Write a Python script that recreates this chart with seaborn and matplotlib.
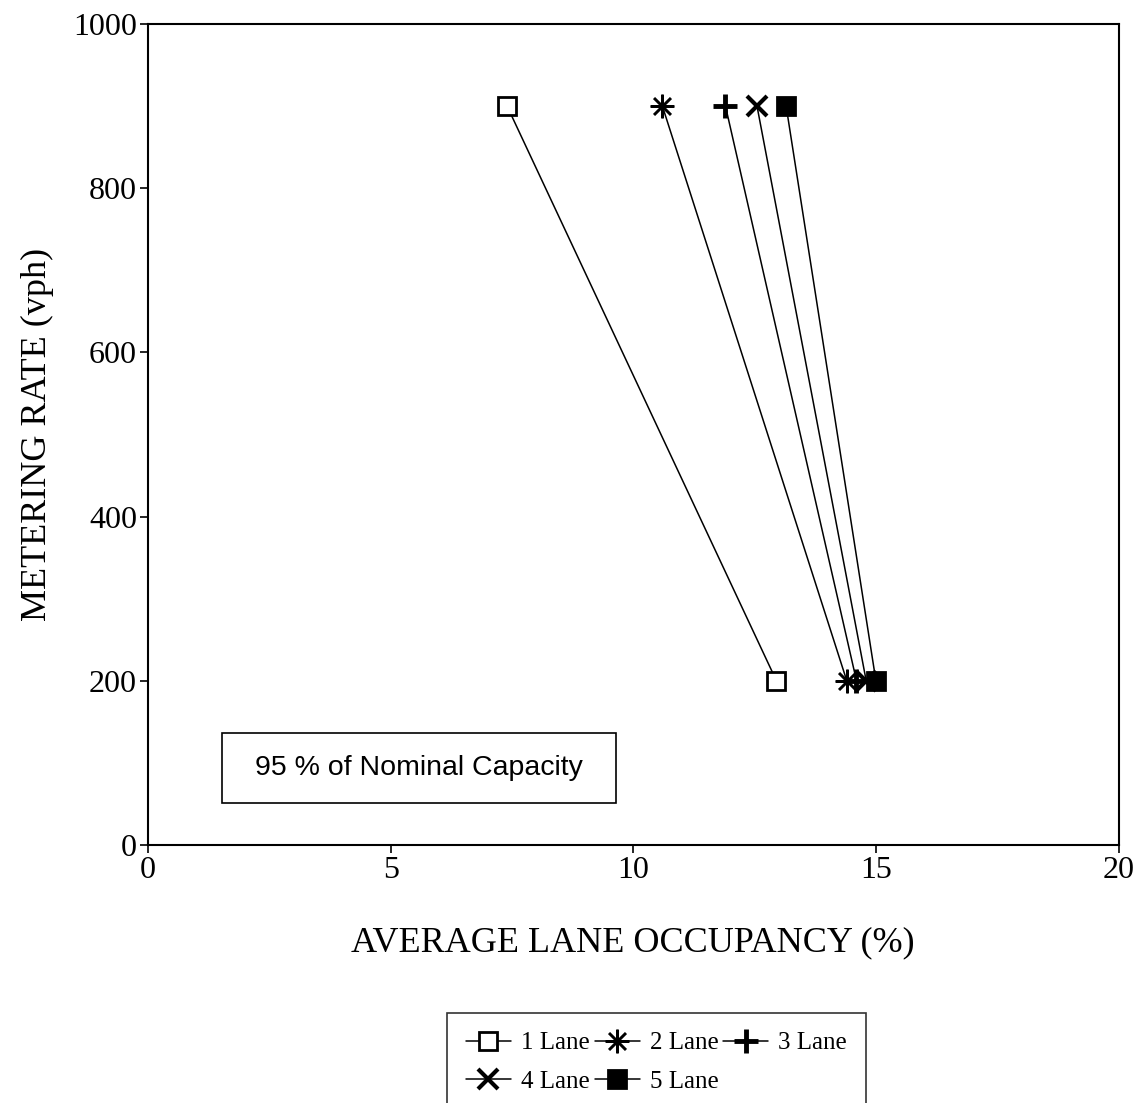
import matplotlib
matplotlib.use("Agg")
import matplotlib.pyplot as plt
from matplotlib.patches import Rectangle
import seaborn as sns
import pandas as pd

lanes = ["1 Lane", "2 Lane", "3 Lane", "4 Lane", "5 Lane"]
metering_rates = [900, 200]
occ_at_900 = [7.4, 10.6, 11.9, 12.55, 13.15]
occ_at_200 = [12.95, 14.4, 14.6, 14.8, 15.0]
x_ticks = [0, 5, 10, 15, 20]
y_ticks = [0, 200, 400, 600, 800, 1000]

rows = []
for lane, a, b in zip(lanes, occ_at_900, occ_at_200):
    rows.append({"lane": lane, "occ": a, "rate": metering_rates[0]})
    rows.append({"lane": lane, "occ": b, "rate": metering_rates[1]})
df = pd.DataFrame(rows)

sns.set_theme(style="ticks")
plt.rcParams["font.family"] = ["Liberation Serif", "DejaVu Serif"]
plt.rcParams["text.color"] = "black"
plt.rcParams["axes.labelcolor"] = "black"

fig = plt.figure(figsize=(11.43, 11.03), dpi=100)
ax = fig.add_axes([0.1295, 0.2339, 0.8491, 0.7443])

marker_styles = {
    "1 Lane": dict(marker="s", markersize=13, markerfacecolor="white", markeredgewidth=2),
    "2 Lane": dict(marker=(8, 2, 0), markersize=17, markeredgewidth=1.8),
    "3 Lane": dict(marker="+", markersize=17, markeredgewidth=3.5),
    "4 Lane": dict(marker="x", markersize=15, markeredgewidth=3),
    "5 Lane": dict(marker="s", markersize=13, markerfacecolor="black", markeredgewidth=2),
}

for lane in lanes:
    sub = df[df["lane"] == lane]
    sns.lineplot(data=sub, x="occ", y="rate", ax=ax, color="black", linewidth=1.1,
                 markeredgecolor="black", sort=False, estimator=None, label=lane,
                 **marker_styles[lane])

ax.set_xlim(0, 20)
ax.set_ylim(0, 1000)
ax.set_xticks(x_ticks)
ax.set_yticks(y_ticks)
ax.tick_params(axis="both", direction="out", length=6, width=1.2, labelsize=23,
               colors="black", pad=2)
for s in ax.spines.values():
    s.set_linewidth(1.5)
    s.set_color("black")
ax.set_xlabel("AVERAGE LANE OCCUPANCY (%)", fontsize=26, labelpad=30, color="black")
ax.set_ylabel("METERING RATE (vph)", fontsize=26, labelpad=14, color="black")

ax.add_patch(Rectangle((0.0763, 0.0512), 0.406, 0.0853, transform=ax.transAxes,
                       facecolor="white", edgecolor="black", linewidth=1.2, zorder=3))
ax.text(0.279, 0.0938, "95 % of Nominal Capacity", transform=ax.transAxes,
        ha="center", va="center", fontsize=20.5, family=["Liberation Sans", "DejaVu Sans"],
        color="black", zorder=4)

handles, labels = ax.get_legend_handles_labels()
ax.get_legend().remove()
order = [0, 3, 1, 4, 2]
leg = fig.legend([handles[i] for i in order], [labels[i] for i in order],
                 loc="upper left", bbox_to_anchor=(447 / 1143, 1 - 1013 / 1103),
                 borderaxespad=0,
                 ncol=3, fontsize=18, frameon=True, fancybox=False, edgecolor="black",
                 handlelength=1.8, handletextpad=0.4, columnspacing=0.2, borderpad=0.75,
                 labelspacing=0.65)
leg.get_frame().set_linewidth(1.2)
for t in leg.get_texts():
    t.set_color("black")

fig.savefig("out.png", dpi=100, facecolor="white")
